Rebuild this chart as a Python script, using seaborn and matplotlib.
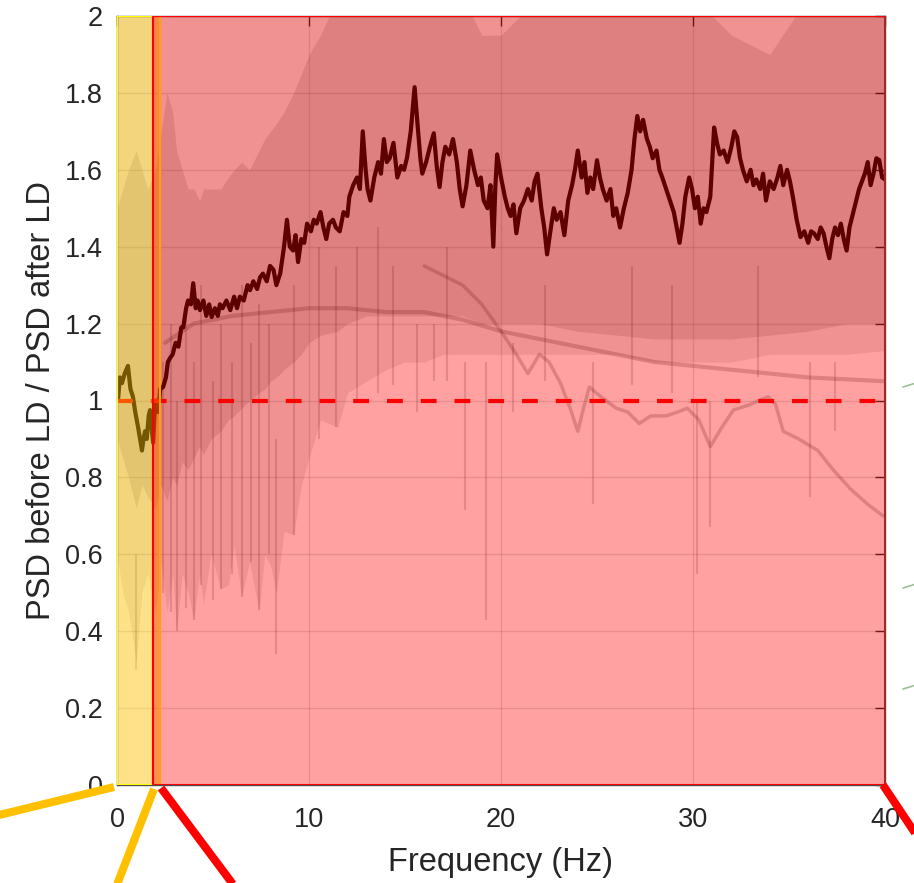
import numpy as np
import pandas as pd
import matplotlib
matplotlib.use("Agg")
import matplotlib.pyplot as plt
import seaborn as sns
from matplotlib.lines import Line2D
from matplotlib.patches import Rectangle

sns.set_theme(style="white")
plt.rcParams['font.family'] = ['Liberation Sans', 'DejaVu Sans']

# ---------------- data ----------------
mean_f = [0.05, 0.15, 0.26, 0.4, 0.57, 0.7, 0.83, 0.95, 1.1, 1.2, 1.3, 1.38, 1.46, 1.55, 1.65, 1.72,
          1.8, 1.88, 1.95, 2.05, 2.15, 2.25, 2.4, 2.55, 2.65, 2.76, 2.9, 3.05, 3.2, 3.35, 3.45, 3.6,
          3.7, 3.85, 3.97, 4.1, 4.2, 4.32, 4.5, 4.65, 4.8, 4.93, 5.1, 5.25, 5.36, 5.5, 5.7, 5.9,
          6.1, 6.25, 6.4, 6.6, 6.8, 6.93, 7.1, 7.3, 7.45, 7.6, 7.8, 7.97, 8.15, 8.3, 8.5, 8.7,
          8.85, 9.0, 9.17, 9.3, 9.43, 9.6, 9.75, 9.9, 10.1, 10.25, 10.4, 10.6, 10.75, 10.9, 11.05,
          11.25, 11.4, 11.6, 11.8, 12.0, 12.1, 12.3, 12.5, 12.65, 12.8, 12.95, 13.05, 13.2, 13.4,
          13.6, 13.75, 13.9, 14.05, 14.2, 14.4, 14.6, 14.8, 14.95, 15.1, 15.3, 15.5, 15.65, 15.8,
          15.9, 16.1, 16.3, 16.5, 16.65, 16.8, 16.95, 17.1, 17.3, 17.5, 17.7, 17.85, 18.0, 18.2,
          18.4, 18.6, 18.8, 18.95, 19.1, 19.3, 19.45, 19.6, 19.7, 19.8, 20.0, 20.2, 20.35, 20.5,
          20.65, 20.8, 21.0, 21.2, 21.4, 21.6, 21.75, 21.9, 22.1, 22.25, 22.4, 22.6, 22.75, 22.9,
          23.1, 23.3, 23.5, 23.7, 23.85, 24.0, 24.2, 24.35, 24.5, 24.65, 24.8, 25.0, 25.15, 25.3,
          25.5, 25.7, 25.85, 26.0, 26.2, 26.4, 26.6, 26.8, 26.95, 27.1, 27.25, 27.4, 27.6, 27.75,
          27.9, 28.1, 28.25, 28.4, 28.6, 28.8, 29.0, 29.15, 29.3, 29.45, 29.6, 29.8, 29.95, 30.1,
          30.25, 30.4, 30.55, 30.7, 30.9, 31.0, 31.1, 31.25, 31.4, 31.6, 31.8, 32.0, 32.15, 32.3,
          32.45, 32.6, 32.8, 33.0, 33.15, 33.3, 33.5, 33.65, 33.8, 34.0, 34.2, 34.4, 34.55, 34.7,
          34.9, 35.05, 35.2, 35.4, 35.6, 35.8, 36.0, 36.15, 36.3, 36.5, 36.65, 36.8, 36.95, 37.1,
          37.25, 37.4, 37.55, 37.7, 37.85, 38.0, 38.15, 38.3, 38.5, 38.65, 38.8, 38.95, 39.1,
          39.25, 39.4, 39.55, 39.7, 39.85, 40.0]
mean_v = [1.00, 1.06, 1.045, 1.07, 1.09, 1.03, 1.01, 0.97, 0.93, 0.90, 0.87, 0.90, 0.92, 0.90, 0.96, 0.975,
          0.93, 0.89, 0.96, 1.00, 0.97, 1.03, 1.035, 1.06, 1.10, 1.11, 1.12, 1.15, 1.14, 1.19, 1.19, 1.24,
          1.26, 1.25, 1.305, 1.24, 1.26, 1.235, 1.26, 1.22, 1.25, 1.217, 1.24, 1.22, 1.25, 1.24, 1.26, 1.235,
          1.27, 1.24, 1.27, 1.26, 1.30, 1.287, 1.31, 1.29, 1.32, 1.33, 1.31, 1.35, 1.34, 1.30, 1.33, 1.40,
          1.47, 1.40, 1.39, 1.43, 1.36, 1.42, 1.41, 1.46, 1.44, 1.47, 1.46, 1.49, 1.45, 1.42, 1.46,
          1.47, 1.45, 1.44, 1.49, 1.48, 1.53, 1.56, 1.58, 1.55, 1.70, 1.60, 1.55, 1.52, 1.58,
          1.62, 1.59, 1.68, 1.62, 1.63, 1.67, 1.58, 1.61, 1.60, 1.63, 1.70, 1.815, 1.72, 1.63,
          1.59, 1.62, 1.66, 1.695, 1.61, 1.555, 1.62, 1.66, 1.64, 1.68, 1.62, 1.55, 1.505, 1.56,
          1.65, 1.60, 1.56, 1.58, 1.52, 1.50, 1.56, 1.40, 1.55, 1.64, 1.58, 1.53, 1.50, 1.48,
          1.51, 1.435, 1.50, 1.52, 1.55, 1.52, 1.57, 1.59, 1.50, 1.45, 1.38, 1.45, 1.50, 1.47,
          1.49, 1.43, 1.52, 1.56, 1.60, 1.65, 1.58, 1.62, 1.54, 1.58, 1.55, 1.625, 1.58, 1.55,
          1.52, 1.55, 1.48, 1.50, 1.45, 1.50, 1.54, 1.60, 1.68, 1.74, 1.70, 1.73, 1.68, 1.66,
          1.63, 1.65, 1.60, 1.58, 1.55, 1.52, 1.49, 1.45, 1.41, 1.46, 1.53, 1.58, 1.55, 1.50,
          1.53, 1.46, 1.50, 1.49, 1.53, 1.62, 1.71, 1.67, 1.64, 1.65, 1.62, 1.66, 1.70, 1.685,
          1.63, 1.60, 1.57, 1.60, 1.56, 1.575, 1.55, 1.59, 1.52, 1.57, 1.55, 1.58, 1.61, 1.56,
          1.60, 1.57, 1.53, 1.47, 1.425, 1.44, 1.41, 1.44, 1.435, 1.42, 1.45, 1.435, 1.40, 1.37,
          1.42, 1.45, 1.43, 1.46, 1.42, 1.39, 1.45, 1.48, 1.52, 1.55, 1.57, 1.59, 1.62,
          1.56, 1.59, 1.63, 1.625, 1.58, 1.575]

# individual-subject curves that stand out from the cloud
subjA_f = [2.5, 4, 6, 8, 10, 12, 14, 16, 18, 20, 22, 24, 26, 28, 30, 32, 34, 36, 38, 40]
subjA_v = [1.15, 1.20, 1.22, 1.23, 1.24, 1.24, 1.23, 1.23, 1.21, 1.18, 1.16, 1.14, 1.12, 1.10,
           1.09, 1.08, 1.07, 1.06, 1.055, 1.05]
subjB_f = [16, 18, 19, 20, 20.8, 21.4, 22, 22.5, 23.1, 23.6, 24.0, 24.3, 24.6, 25.2, 26.0, 26.6,
           27.2, 27.8, 28.6, 29.2, 29.7, 30.3, 30.9, 31.5, 32.1, 33.0, 33.9, 34.3, 34.7, 35.5,
           36.5, 37.3, 38.2, 39.1, 39.9]
subjB_v = [1.35, 1.30, 1.25, 1.18, 1.12, 1.07, 1.12, 1.10, 1.045, 0.98, 0.92, 0.98, 1.035, 1.01,
           0.98, 0.97, 0.94, 0.96, 0.96, 0.97, 0.98, 0.95, 0.88, 0.93, 0.975, 0.99, 1.01, 0.99,
           0.92, 0.90, 0.87, 0.82, 0.77, 0.73, 0.70]

# envelope of the cloud of individual curves
cloud_f = [0, 0.3, 0.6, 1.0, 1.3, 1.6, 2.0, 2.3, 2.6, 2.9, 3.1, 3.4, 3.7, 4.0, 4.3, 4.5, 4.9,
           5.4, 5.8, 6.1, 6.5, 6.9, 7.4, 7.7, 8.0, 8.3, 8.7, 9.2, 9.6, 10.0, 10.6, 11.5, 12,
           13, 14, 15, 16, 17, 18, 19, 20, 22, 24, 26, 28, 30, 32, 34, 36, 38, 40]
cloud_sparse_low = [0.60, 0.50, 0.45, 0.32, 0.50, 0.55, 0.45, 0.58, 0.45, 0.55, 0.40, 0.55, 0.50,
                    0.43, 0.55, 0.47, 0.60, 0.51, 0.52, 0.62, 0.49, 0.58, 0.455, 0.60, 0.57,
                    0.50, 0.66, 0.65, 0.78, 0.85, 0.95, 0.93, 1.02, 1.05, 1.08, 1.10, 1.10, 1.12,
                    1.12, 1.12, 1.12, 1.12, 1.12, 1.12, 1.10, 1.10, 1.10, 1.12, 1.12, 1.12, 1.13]
cloud_dense_low = [0.90, 0.85, 0.80, 0.72, 0.78, 0.75, 0.72, 0.78, 0.74, 0.80, 0.78, 0.84, 0.82,
                   0.85, 0.88, 0.86, 0.90, 0.92, 0.95, 0.96, 0.98, 1.00, 1.02, 1.03, 1.05, 1.06,
                   1.08, 1.10, 1.12, 1.15, 1.17, 1.18, 1.20, 1.22, 1.22, 1.22, 1.22, 1.22, 1.22,
                   1.20, 1.20, 1.20, 1.18, 1.17, 1.16, 1.16, 1.16, 1.17, 1.18, 1.20, 1.20]
cloud_dense_high = [1.50, 1.55, 1.60, 1.65, 1.60, 1.55, 1.60, 1.70, 1.80, 1.75, 1.65, 1.60, 1.55,
                    1.55, 1.52, 1.55, 1.55, 1.55, 1.58, 1.60, 1.62, 1.60, 1.65, 1.68, 1.70, 1.72,
                    1.75, 1.80, 1.85, 1.90, 1.95, 2.05, 2.05, 2.05, 2.05, 2.05, 2.05, 2.05, 2.05,
                    1.95, 1.95, 2.05, 2.05, 2.05, 2.05, 2.05, 1.95, 1.90, 2.05, 2.05, 2.05]

# isolated downward spikes / streaks of single curves
spike_f = [1.0, 8.3, 15.6, 16.5, 18.1, 19.2, 20.6, 24.8, 30.2, 30.9, 36.1, 37.4,
           2.4, 2.8, 3.1, 3.6, 4.0, 4.4, 5.0, 5.4, 6.0, 6.5, 7.0, 7.4, 7.9, 9.2, 10.5, 11.4,
           12.5, 13.6, 14.4, 17.2, 22.3, 26.8, 28.9, 33.4]
spike_low = [0.30, 0.34, 0.97, 1.05, 0.715, 0.43, 0.97, 0.73, 0.55, 0.67, 0.75, 0.92,
             0.50, 0.45, 0.40, 0.46, 0.43, 0.52, 0.48, 0.51, 0.55, 0.49, 0.58, 0.455, 0.60,
             0.65, 0.90, 0.93, 1.00, 1.02, 1.04, 1.05, 1.05, 1.04, 1.02, 1.06]
spike_high = [0.60, 0.90, 1.20, 1.20, 1.10, 1.10, 1.15, 1.10, 1.00, 1.00, 1.10, 1.10,
              1.10, 1.20, 1.00, 1.25, 1.10, 1.30, 1.05, 1.20, 1.10, 1.30, 1.15, 1.25, 1.20,
              1.30, 1.40, 1.35, 1.40, 1.45, 1.35, 1.40, 1.30, 1.35, 1.30, 1.35]

ref_level = 1.0
low_band = (0.0, 2.24)
high_band = (1.88, 40.0)
xticks = [0, 10, 20, 30, 40]
yticks = [0, 0.2, 0.4, 0.6, 0.8, 1.0, 1.2, 1.4, 1.6, 1.8, 2.0]
yticklabels = ["0", "0.2", "0.4", "0.6", "0.8", "1", "1.2", "1.4", "1.6", "1.8", "2"]

# ---------------- figure ----------------
W, H = 914, 883
fig = plt.figure(figsize=(W / 100, H / 100), dpi=100)
ax = fig.add_axes([117 / W, 1 - 785 / H, 768 / W, 769 / H])
ax.set_axisbelow(True)

cloud = pd.DataFrame({"f": cloud_f, "lo": cloud_sparse_low, "dlo": cloud_dense_low,
                      "dhi": cloud_dense_high})
ax.fill_between(cloud["f"], cloud["lo"], 2.1, color="black", alpha=0.09, lw=0, zorder=1)
ax.fill_between(cloud["f"], cloud["dlo"], cloud["dhi"], color="black", alpha=0.12, lw=0, zorder=1)
ax.vlines(spike_f, spike_low, spike_high, color="black", alpha=0.16, lw=1.5, zorder=1.1)

sns.lineplot(x=subjA_f, y=subjA_v, ax=ax, color="black", alpha=0.2, lw=3, zorder=1.2,
             estimator=None, sort=False)
sns.lineplot(x=subjB_f, y=subjB_v, ax=ax, color="black", alpha=0.2, lw=2.5, zorder=1.2,
             estimator=None, sort=False)
sns.lineplot(x=mean_f, y=mean_v, ax=ax, color="black", lw=3.0, zorder=2,
             estimator=None, sort=False)
ax.axhline(ref_level, color="#ff0000", lw=3, dashes=(3.8, 4.3), zorder=2.1)

ax.add_patch(Rectangle((low_band[0], 0), low_band[1] - low_band[0], 2,
                       facecolor=(1.0, 0.75, 0.0, 0.46), edgecolor=(1.0, 1.0, 0.0),
                       lw=1.5, zorder=3))
ax.add_patch(Rectangle((high_band[0], 0), high_band[1] - high_band[0], 2,
                       facecolor=(1.0, 0.0, 0.0, 0.37), edgecolor=(1.0, 0.0, 0.0),
                       lw=1.5, zorder=3.1))

ax.set_xlim(0, 40)
ax.set_ylim(0, 2)
ax.set_xticks(xticks)
ax.set_xticklabels([str(t) for t in xticks])
ax.set_yticks(yticks)
ax.set_yticklabels(yticklabels)
ax.grid(True, color="black", alpha=0.12, lw=1)
ax.tick_params(axis="both", direction="in", length=7, width=1, top=True, right=True,
               labelsize=19.5, labelcolor="#262626", color="#262626")
ax.tick_params(axis="x", pad=16)
ax.tick_params(axis="y", pad=10)
for s in ax.spines.values():
    s.set_color("#4d4d4d")
    s.set_linewidth(1)
ax.set_xlabel("Frequency (Hz)", fontsize=23.5, color="#262626", labelpad=10)
ax.set_ylabel("PSD before LD / PSD after LD", fontsize=23.5, color="#262626", labelpad=6)

# zoom connector lines outside the axes (figure pixel coordinates)
def px(x, y):
    return x / W, 1 - y / H

for (x0, y0, x1, y1, c) in [(-5, 816, 114, 787, "#ffc000"), (154, 789, 113, 895, "#ffc000"),
                            (161, 788, 241, 895, "#ff0000"), (883, 785, 925, 848, "#ff0000")]:
    a, b = px(x0, y0)
    c2, d = px(x1, y1)
    fig.add_artist(Line2D([a, c2], [b, d], transform=fig.transFigure, color=c, lw=5.8,
                          solid_capstyle="butt", clip_on=False))
for yy in [385, 586, 687]:
    a, b = px(903, yy + 2)
    c2, d = px(916, yy - 2)
    fig.add_artist(Line2D([a, c2], [b, d], transform=fig.transFigure, color="#9cbf94",
                          lw=1.2, clip_on=False))

fig.savefig("out.png", dpi=100)
